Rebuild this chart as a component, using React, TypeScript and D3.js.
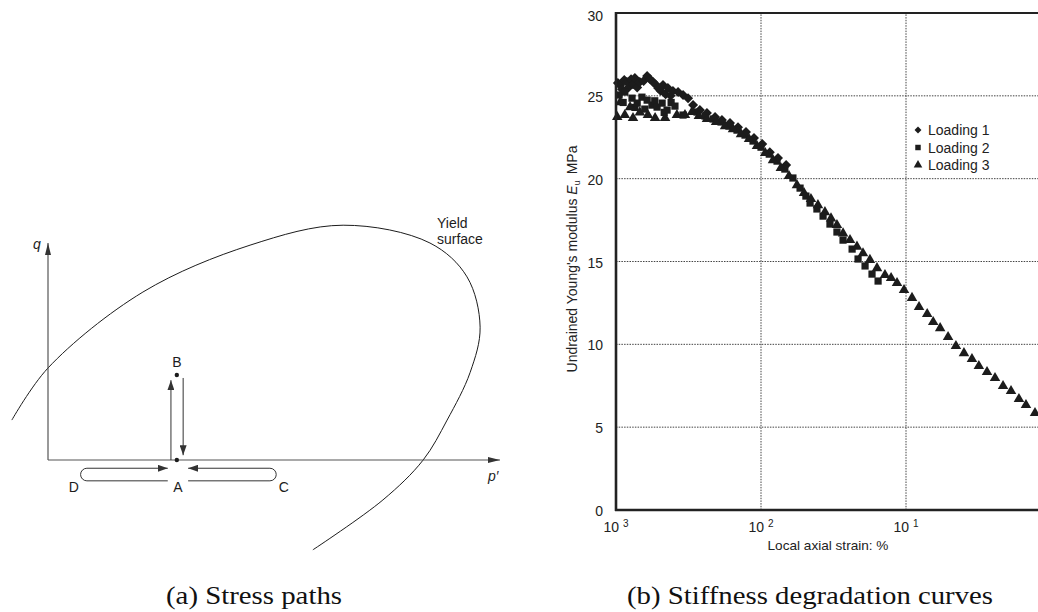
import React from 'react';
import * as d3 from 'd3';

// ---------- Panel (b) data ----------
const xTickValues = [0.001, 0.01, 0.1];
const xTickExponents = ['3', '2', '1'];
const yTickValues = [0, 5, 10, 15, 20, 25, 30];
const seriesNames = ['Loading 1', 'Loading 2', 'Loading 3'];

const load1Strain = [0.00103, 0.00107, 0.0011, 0.00114, 0.00119, 0.00122, 0.00127, 0.00131, 0.00135, 0.0014, 0.00146, 0.00155, 0.00164, 0.00172, 0.0018, 0.00187, 0.00195, 0.00203, 0.00211, 0.0022, 0.00228, 0.00238, 0.00247, 0.00268, 0.0029, 0.00314, 0.0034, 0.00379, 0.00424, 0.00482, 0.00538, 0.00611, 0.00694, 0.00788, 0.00895, 0.0102, 0.0115, 0.0131, 0.0149];
const load1E = [25.77, 25.65, 25.4, 25.95, 25.83, 25.5, 26.0, 25.7, 26.07, 25.5, 25.83, 25.9, 26.19, 26.0, 25.83, 25.7, 25.47, 25.3, 25.65, 25.1, 25.47, 25.0, 25.29, 25.23, 25.05, 24.86, 24.44, 24.14, 23.96, 23.72, 23.54, 23.36, 23.11, 22.81, 22.45, 22.09, 21.6, 21.24, 20.82];

const load2Strain = [0.00105, 0.00112, 0.00115, 0.00129, 0.00135, 0.0014, 0.00151, 0.00158, 0.00164, 0.00177, 0.00185, 0.00192, 0.00208, 0.00215, 0.00225, 0.0024, 0.00255, 0.0029, 0.00362, 0.00411, 0.00467, 0.0053, 0.00601, 0.00683, 0.00776, 0.00881, 0.01, 0.0114, 0.0129, 0.0146, 0.0166, 0.0186, 0.0204, 0.0218, 0.0243, 0.0268, 0.0299, 0.0334, 0.0368, 0.0425, 0.0467, 0.0522, 0.0583, 0.0642];
const load2E = [25.05, 24.6, 25.23, 24.86, 24.3, 24.56, 24.92, 24.2, 24.74, 24.44, 24.7, 24.32, 24.56, 24.0, 24.14, 24.6, 24.38, 23.84, 24.02, 23.78, 23.6, 23.42, 23.17, 22.93, 22.63, 22.27, 21.9, 21.48, 21.06, 20.58, 20.04, 19.43, 18.95, 18.53, 18.17, 17.74, 17.26, 16.78, 16.29, 15.75, 15.15, 14.73, 14.24, 13.82];

const load3Strain = [0.00102, 0.00107, 0.00115, 0.00125, 0.00131, 0.00146, 0.00166, 0.00186, 0.00218, 0.00263, 0.00299, 0.00334, 0.00373, 0.00424, 0.0049, 0.00565, 0.00641, 0.00728, 0.00827, 0.00938, 0.0107, 0.0121, 0.0137, 0.0156, 0.0177, 0.0198, 0.0221, 0.0247, 0.0276, 0.0304, 0.0334, 0.0368, 0.0411, 0.0459, 0.0505, 0.0564, 0.0631, 0.0716, 0.0789, 0.0867, 0.0969, 0.11, 0.123, 0.14, 0.154, 0.172, 0.195, 0.221, 0.251, 0.285, 0.318, 0.362, 0.411, 0.467, 0.53, 0.601, 0.672, 0.776];
const load3E = [23.72, 24.62, 23.84, 24.32, 23.66, 24.0, 23.84, 23.66, 23.66, 23.84, 23.84, 24.02, 23.78, 23.6, 23.42, 23.17, 22.99, 22.69, 22.39, 21.97, 21.55, 21.12, 20.64, 20.16, 19.61, 19.13, 18.77, 18.4, 17.98, 17.6, 17.2, 16.7, 16.3, 15.9, 15.5, 15.1, 14.6, 14.18, 14.0, 13.7, 13.28, 12.8, 12.25, 11.83, 11.35, 10.98, 10.44, 9.9, 9.47, 9.11, 8.69, 8.33, 7.97, 7.48, 7.18, 6.7, 6.34, 5.85];

// ---------- Panel (a) data (schematic p'-q space) ----------
const yieldP = [-8, 0, 21.0, 44.7, 65.3, 84.5, 92.7, 95.6, 93.4, 88.3, 83.0, 74.1, 58.6];
const yieldQ = [9.2, 21.2, 38.7, 49.5, 54.1, 50.0, 42.2, 30.6, 20.2, 9.2, 0, -9.2, -20.7];
const pointA = [28.5, 0];
const pointB = [28.5, 19.6];
const upPathP = 27.2;
const upPathQ = [0, 18.4];
const downPathP = 29.9;
const downPathQ = [18.9, 1.1];
const loopQ = [-1.9, -4.8];
const loopD = [8.6, 26.5];
const loopC = [49.1, 31.0];

const SANS = '"Liberation Sans", Arial, Helvetica, sans-serif';
const SERIF = '"Liberation Serif", "Times New Roman", serif';
const INK = '#1c1c1c';

export default function App() {
  const W = 1038, H = 612;

  // panel (b) scales
  const x = d3.scaleLog().domain([1e-3, 1]).range([616, 1051]);
  const y = d3.scaleLinear().domain([0, 30]).range([510, 13]);

  // panel (a) scales
  const ps = d3.scaleLinear().domain([0, 100]).range([48, 500]);
  const qs = d3.scaleLinear().domain([0, 50]).range([460, 243]);

  const diamondPath = d3.symbol().type(d3.symbolSquare).size(50)() as string;
  const squarePath = d3.symbol().type(d3.symbolSquare).size(52)() as string;
  const trianglePath = d3.symbol().type(d3.symbolTriangle).size(48)() as string;
  const diamondLeg = d3.symbol().type(d3.symbolSquare).size(24)() as string;
  const squareLeg = d3.symbol().type(d3.symbolSquare).size(30)() as string;
  const triangleLeg = d3.symbol().type(d3.symbolTriangle).size(32)() as string;

  const yieldLine = d3.line<number>()
    .x((_, i) => ps(yieldP[i]))
    .y((_, i) => qs(yieldQ[i]))
    .curve(d3.curveCatmullRom.alpha(0.5));

  const r = (qs(loopQ[1]) - qs(loopQ[0])) / 2;
  const yTop = qs(loopQ[0]);
  const yBot = qs(loopQ[1]);
  const dLoop = `M${ps(loopD[1])},${yBot} L${ps(loopD[0])},${yBot} A${r},${r} 0 0 1 ${ps(loopD[0])},${yTop}`;
  const cLoop = `M${ps(loopC[1])},${yBot} L${ps(loopC[0])},${yBot} A${r},${r} 0 0 0 ${ps(loopC[0])},${yTop}`;

  const [xl, xr] = x.range();
  const [yb, yt] = y.range();

  return (
    <svg width={W} height={H} style={{ position: 'absolute', left: 0, top: 0, background: '#fff' }}>
      <defs>
        <marker id="ah" markerUnits="userSpaceOnUse" markerWidth="10" markerHeight="7" refX="10" refY="3.5" orient="auto">
          <path d="M0,0 L10,3.5 L0,7 Z" fill="#333" />
        </marker>
        <marker id="axh" markerUnits="userSpaceOnUse" markerWidth="12" markerHeight="7" refX="12" refY="3.5" orient="auto">
          <path d="M0,0.5 L12,3.5 L0,6.5 Z" fill="#333" />
        </marker>
      </defs>
      <rect width={W} height={H} fill="#fff" />

      {/* ================= Panel (a) ================= */}
      <g>
        <path d={yieldLine(yieldP) as string} fill="none" stroke={INK} strokeWidth={1} />
        {/* axes */}
        <line x1={ps(0)} y1={qs(0)} x2={ps(0)} y2={qs(50)} stroke="#555" strokeWidth={1.2} markerEnd="url(#axh)" />
        <line x1={ps(0)} y1={qs(0)} x2={ps(100)} y2={qs(0)} stroke="#555" strokeWidth={1.2} markerEnd="url(#axh)" />
        <text x={ps(0) - 15} y={qs(50) + 6} fontFamily={SANS} fontStyle="italic" fontSize={14} fill={INK}>q</text>
        <text x={ps(100) - 12} y={qs(0) + 21} fontFamily={SANS} fontStyle="italic" fontSize={14} fill={INK}>p′</text>

        {/* A-B path */}
        <line x1={ps(upPathP)} y1={qs(upPathQ[0])} x2={ps(upPathP)} y2={qs(upPathQ[1])} stroke="#333" strokeWidth={1} markerEnd="url(#ah)" />
        <line x1={ps(downPathP)} y1={qs(downPathQ[0])} x2={ps(downPathP)} y2={qs(downPathQ[1])} stroke="#333" strokeWidth={1} markerEnd="url(#ah)" />
        <circle cx={ps(pointB[0])} cy={qs(pointB[1])} r={2.2} fill={INK} />
        <circle cx={ps(pointA[0])} cy={qs(pointA[1])} r={2.2} fill={INK} />
        <text x={ps(pointB[0])} y={qs(pointB[1]) - 8} textAnchor="middle" fontFamily={SANS} fontSize={14} fill={INK}>B</text>
        <text x={ps(pointA[0]) + 1} y={qs(pointA[1]) + 32} textAnchor="middle" fontFamily={SANS} fontSize={14} fill={INK}>A</text>

        {/* D and C loops */}
        <path d={dLoop} fill="none" stroke="#333" strokeWidth={1} />
        <line x1={ps(loopD[0])} y1={yTop} x2={ps(loopD[1])} y2={yTop} stroke="#333" strokeWidth={1} markerEnd="url(#ah)" />
        <path d={cLoop} fill="none" stroke="#333" strokeWidth={1} />
        <line x1={ps(loopC[0])} y1={yTop} x2={ps(loopC[1])} y2={yTop} stroke="#333" strokeWidth={1} markerEnd="url(#ah)" />
        <text x={ps(loopD[0]) - 13} y={qs(0) + 32} textAnchor="middle" fontFamily={SANS} fontSize={14} fill={INK}>D</text>
        <text x={ps(loopC[0]) + 14} y={qs(0) + 32} textAnchor="middle" fontFamily={SANS} fontSize={14} fill={INK}>C</text>

        <text x={437} y={228} fontFamily={SANS} fontSize={14} fill={INK}>Yield</text>
        <text x={437} y={244} fontFamily={SANS} fontSize={14} fill={INK}>surface</text>

        <text x={254} y={604} textAnchor="middle" fontFamily={SERIF} fontSize={25} fill="#111" textLength={176} lengthAdjust="spacingAndGlyphs">(a) Stress paths</text>
      </g>

      {/* ================= Panel (b) ================= */}
      <g>
        {/* grid */}
        {yTickValues.filter(v => v > 0 && v < 30).map(v => (
          <line key={'gy' + v} x1={xl} x2={xr} y1={y(v)} y2={y(v)} stroke="#444" strokeWidth={1} strokeDasharray="1.5,1.2" />
        ))}
        {xTickValues.slice(1).map(v => (
          <line key={'gx' + v} x1={x(v)} x2={x(v)} y1={yb} y2={yt} stroke="#444" strokeWidth={1} strokeDasharray="1.5,1.2" />
        ))}

        {/* data */}
        <g fill={INK}>
          {load1Strain.map((s, i) => (
            <path key={'a' + i} d={diamondPath} transform={`translate(${x(s)},${y(load1E[i])}) rotate(45)`} />
          ))}
          {load2Strain.map((s, i) => (
            <path key={'b' + i} d={squarePath} transform={`translate(${x(s)},${y(load2E[i])})`} />
          ))}
          {load3Strain.map((s, i) => (
            <path key={'c' + i} d={trianglePath} transform={`translate(${x(s)},${y(load3E[i])})`} />
          ))}
        </g>

        {/* frame */}
        <line x1={xl} x2={xl} y1={yb + 1} y2={yt - 1} stroke="#222" strokeWidth={2.6} />
        <line x1={xl - 1} x2={xr} y1={yb} y2={yb} stroke="#222" strokeWidth={2.6} />
        <line x1={xl - 1} x2={xr} y1={yt} y2={yt} stroke="#222" strokeWidth={2.2} />

        {/* y ticks */}
        {yTickValues.map(v => (
          <text key={'yt' + v} x={603} y={y(v) + 5 + (v === 30 ? 3 : 1)} textAnchor="end" fontFamily={SANS} fontSize={14} fill="#222">{v}</text>
        ))}
        {/* x ticks */}
        {xTickValues.map((v, i) => (
          <text key={'xt' + v} x={x(v)} y={532} textAnchor="middle" fontFamily={SANS} fontSize={14} fill="#222">
            10<tspan dx={4} dy={-5} fontSize={10}>{xTickExponents[i]}</tspan>
          </text>
        ))}
        <text x={828} y={550} textAnchor="middle" fontFamily={SANS} fontSize={13.6} fill="#222">Local axial strain: %</text>

        {/* y title */}
        <text transform="translate(577,259) rotate(-90)" textAnchor="middle" fontFamily={SANS} fontSize={14} fill="#222">
          Undrained Young's modulus <tspan fontStyle="italic">E</tspan><tspan fontSize={9} dy={3}>u</tspan><tspan dy={-3} dx={6}>MPa</tspan>
        </text>

        {/* legend */}
        {seriesNames.map((name, i) => {
          const cy = 130 + i * 17.5;
          const d = i === 0 ? diamondLeg : i === 1 ? squareLeg : triangleLeg;
          const rot = i === 0 ? ' rotate(45)' : '';
          return (
            <g key={name}>
              <path d={d} transform={`translate(918,${cy})${rot}`} fill={INK} />
              <text x={928} y={cy + 5} fontFamily={SANS} fontSize={14} fill="#222">{name}</text>
            </g>
          );
        })}

        <text x={810} y={604} textAnchor="middle" fontFamily={SERIF} fontSize={25} fill="#111" textLength={366} lengthAdjust="spacingAndGlyphs">(b) Stiffness degradation curves</text>
      </g>
    </svg>
  );
}
